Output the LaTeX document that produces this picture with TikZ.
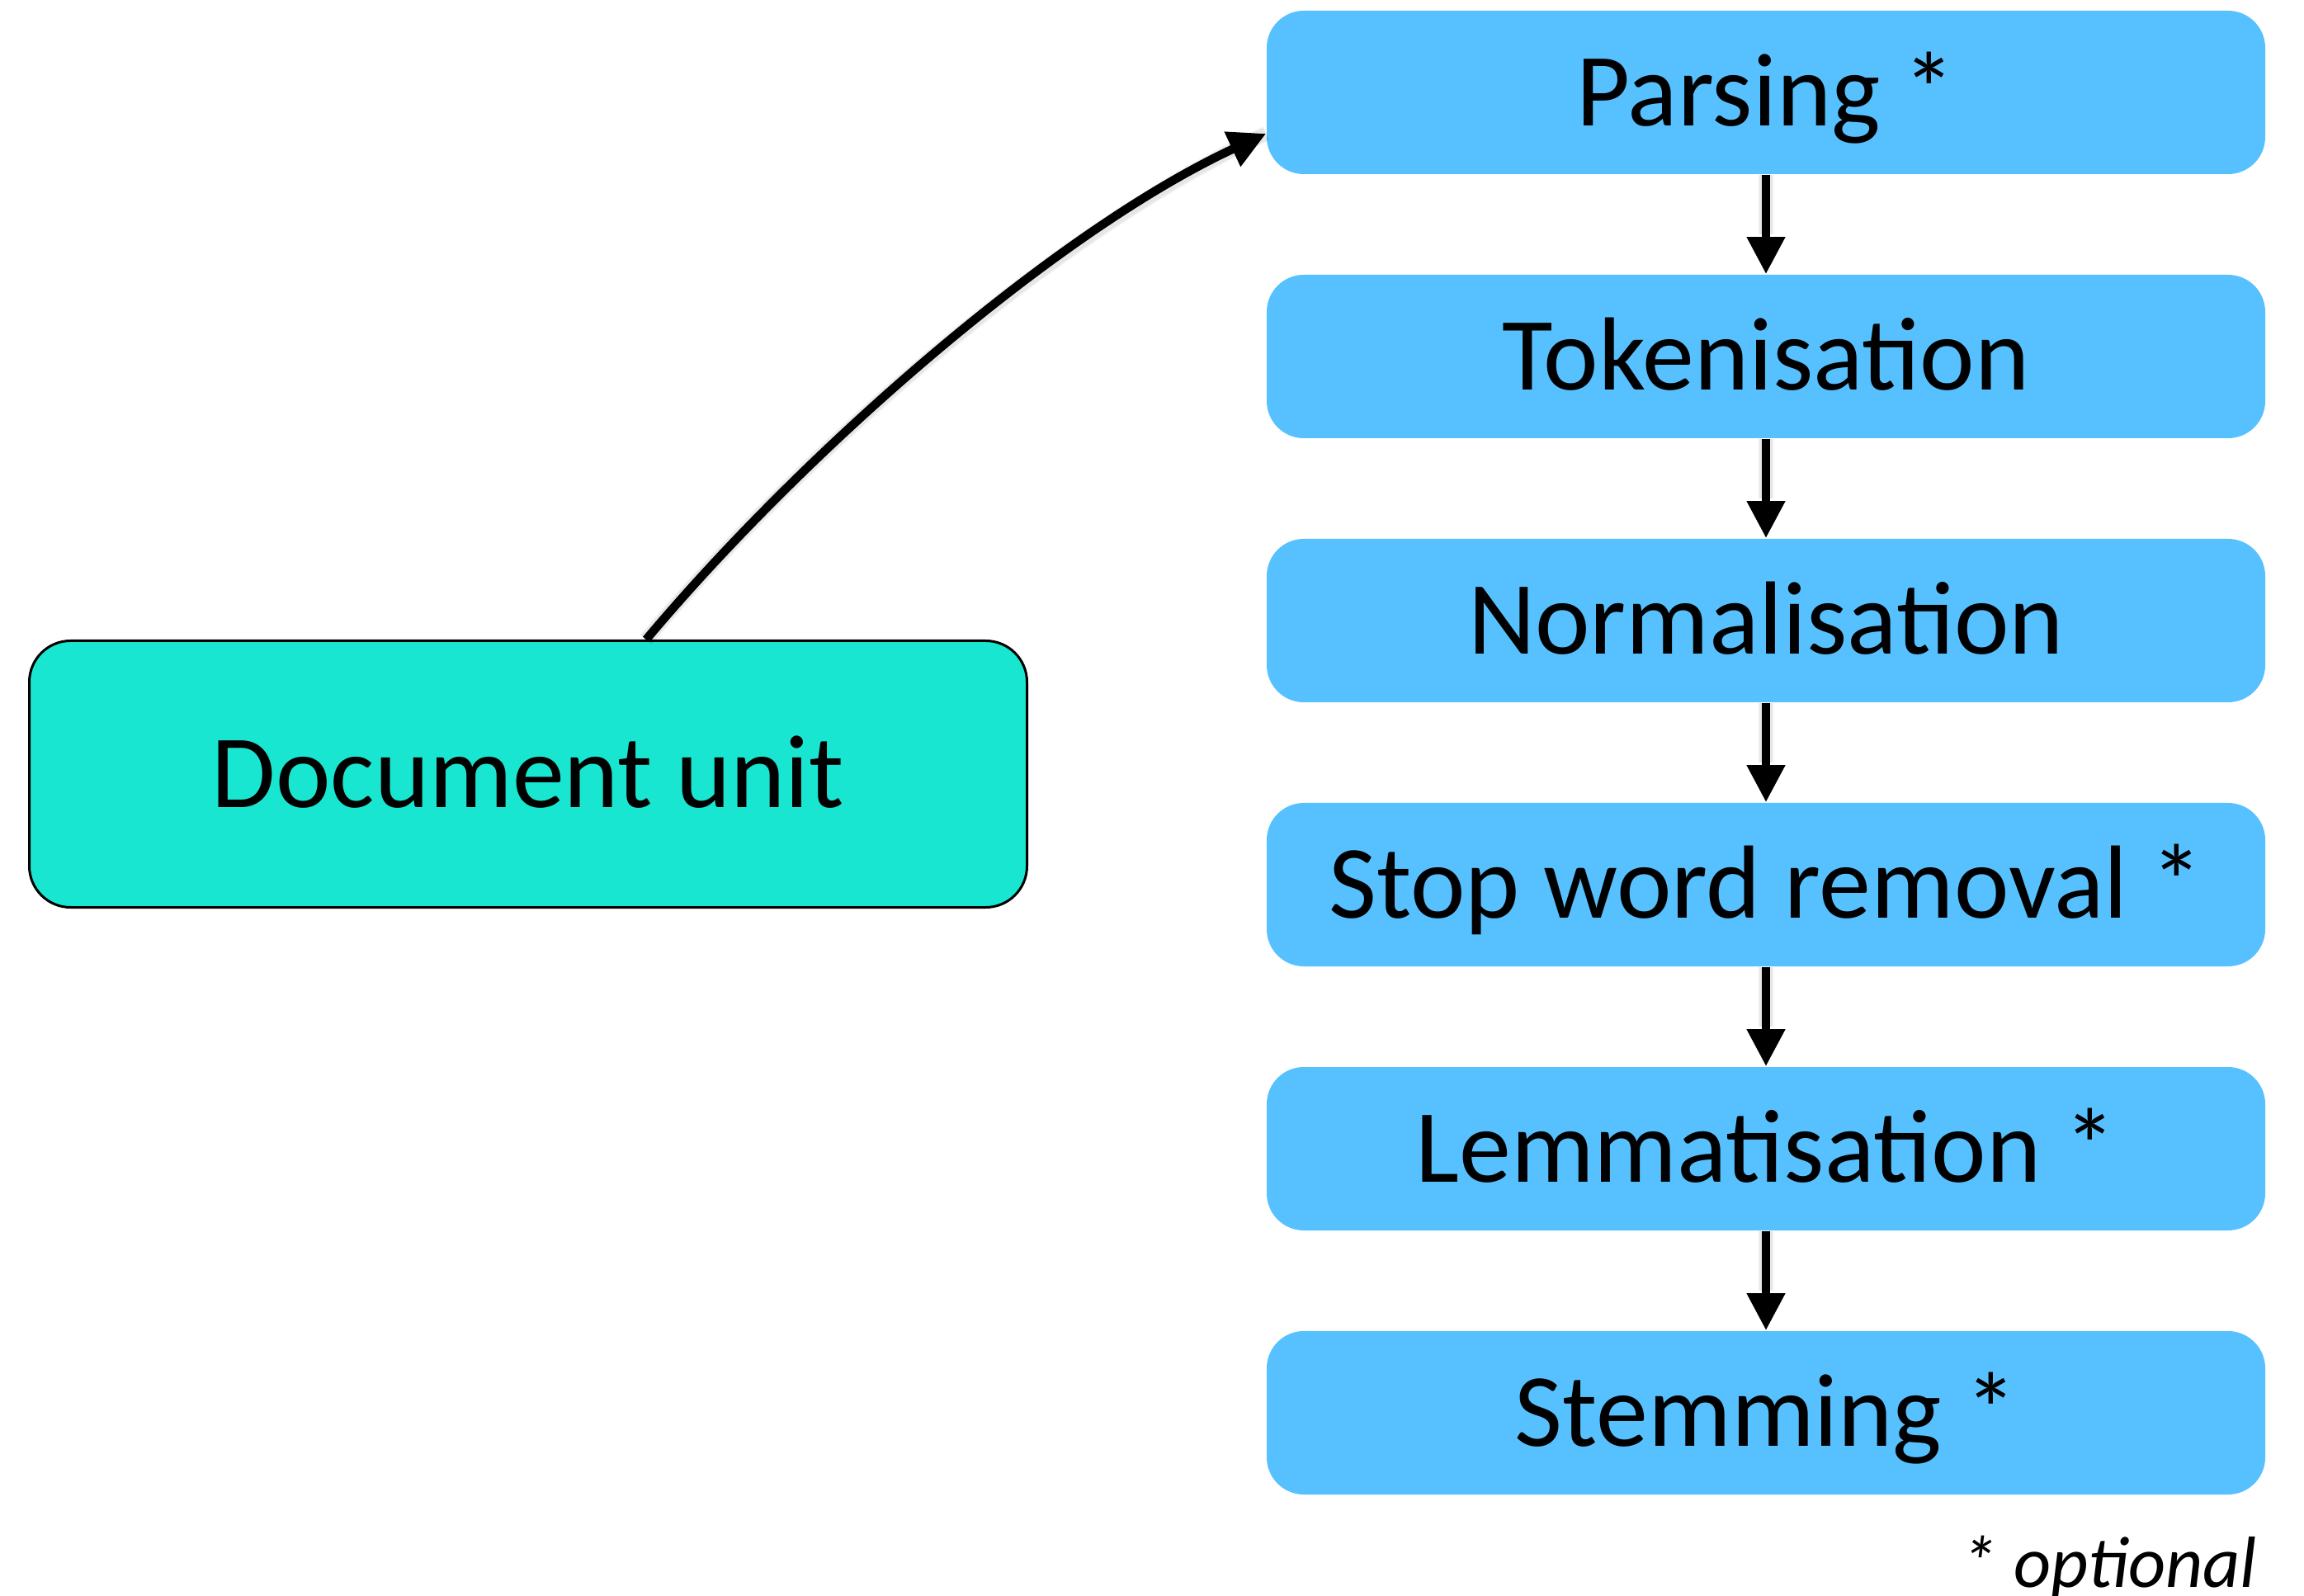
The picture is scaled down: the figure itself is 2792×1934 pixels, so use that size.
\documentclass[tikz,border=0pt]{standalone}
\usepackage{fontspec}
\setmainfont{Carlito}
\usetikzlibrary{arrows.meta,calc}
\definecolor{stepblue}{RGB}{87,193,255}
\definecolor{unitteal}{RGB}{25,230,208}
\begin{document}
\begin{tikzpicture}[x=0.25pt,y=-0.25pt,
  stepbox/.style={rectangle, rounded corners=11.25pt, fill=stepblue,
    minimum width=302.5pt, minimum height=49.5pt, inner sep=0pt,
    font=\fontsize{31.5}{38}\selectfont, text height=20.3pt, text depth=0pt},
  unitbox/.style={rectangle, rounded corners=12.5pt, fill=unitteal, draw=black,
    line width=0.75pt, minimum width=302.25pt, minimum height=80.75pt, inner sep=0pt,
    font=\fontsize{31.5}{38}\selectfont, text height=20.3pt, text depth=0pt},
  conn/.style={line width=2.6pt, -{Triangle[length=11.25pt,width=11pt]}},
  halo/.style={line width=#1, black, opacity=0.05}]
\useasboundingbox (0,0) rectangle (2792,1934);

% pipeline steps
\node[stepbox] (parse) at (2140,112) {Parsing *};
\node[stepbox] (token) at (2140,432) {Tokenisation};
\node[stepbox] (norm)  at (2140,752) {Normalisation};
\node[stepbox] (stop)  at (2140,1072) {Stop word removal *};
\node[stepbox] (lemma) at (2140,1392) {Lemmatisation *};
\node[stepbox] (stem)  at (2140,1712) {Stemming *};

% input
\node[unitbox] (doc) at (640,938) {Document unit};

% footnote
\node[anchor=base east, inner sep=0pt, font=\fontsize{22}{27}\selectfont\itshape] (note) at (2736,1923) {* optional};

% connectors, each with a faint soft shadow beneath it
\foreach \a/\b in {parse/token, token/norm, norm/stop, stop/lemma, lemma/stem} {
  \foreach \w in {4.6pt,3.8pt}
    \draw[halo=\w] (\a.south) -- ([yshift=12pt]\b.north);
  \draw[conn] (\a.south) -- (\b.north);
}

\coordinate (from) at ($(doc.north west)!0.618!(doc.north east)$);
\coordinate (to) at ($(parse.north west)!0.75!(parse.south west)$);
\foreach \w in {4.6pt,3.8pt}
  \draw[halo=\w] (from) .. controls +(193,-230) and +(-254,118) .. (to);
\draw[conn] (from) .. controls +(193,-230) and +(-254,118) .. (to);
\end{tikzpicture}
\end{document}
